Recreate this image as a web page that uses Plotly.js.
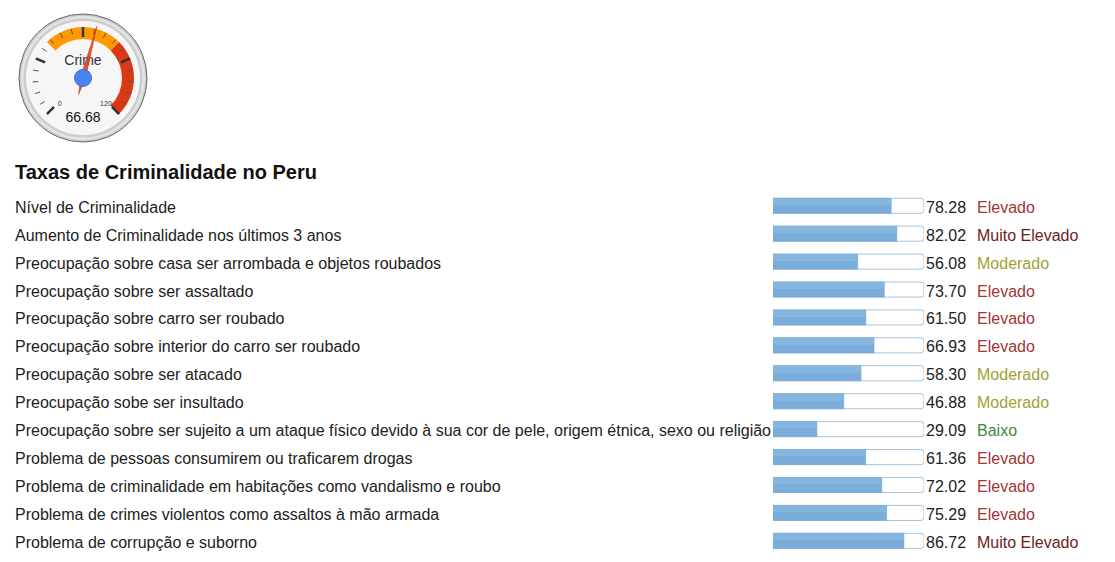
<!DOCTYPE html>
<html>
<head>
<meta charset="utf-8">
<script src="https://cdn.plot.ly/plotly-3.0.1.min.js"></script>
<style>
  body { margin: 0; background: #fff; }
  #myDiv { width: 1115px; height: 562px; }
</style>
</head>
<body>
<div id="myDiv"></div>
<script>
// gauge data
const gaugeLabel = 'Crime';
const gaugeValue = 66.68;
const gaugeMin = 0;
const gaugeMax = 120;
const bandFrom = [40, 80];
const bandTo = [80, 120];
const bandColors = ['#ff9900', '#dc3912'];
const majorTicks = [0, 30, 60, 90, 120];
const minorTicks = [6, 12, 18, 24, 36, 42, 48, 54, 66, 72, 78, 84, 96, 102, 108, 114];

// bar list data
const chartTitle = 'Taxas de Criminalidade no Peru';
const categories = [
  'Nível de Criminalidade',
  'Aumento de Criminalidade nos últimos 3 anos',
  'Preocupação sobre casa ser arrombada e objetos roubados',
  'Preocupação sobre ser assaltado',
  'Preocupação sobre carro ser roubado',
  'Preocupação sobre interior do carro ser roubado',
  'Preocupação sobre ser atacado',
  'Preocupação sobe ser insultado',
  'Preocupação sobre ser sujeito a um ataque físico devido à sua cor de pele, origem étnica, sexo ou religião',
  'Problema de pessoas consumirem ou traficarem drogas',
  'Problema de criminalidade em habitações como vandalismo e roubo',
  'Problema de crimes violentos como assaltos à mão armada',
  'Problema de corrupção e suborno'
];
const values = [78.28, 82.02, 56.08, 73.70, 61.50, 66.93, 58.30, 46.88, 29.09, 61.36, 72.02, 75.29, 86.72];
const levels = ['Elevado', 'Muito Elevado', 'Moderado', 'Elevado', 'Elevado', 'Elevado', 'Moderado',
  'Moderado', 'Baixo', 'Elevado', 'Elevado', 'Elevado', 'Muito Elevado'];
const scaleMax = 100;

const levelColors = {
  'Baixo': '#3d8a3d',
  'Moderado': '#a2a232',
  'Elevado': '#a53434',
  'Muito Elevado': '#6d1c1c'
};

const font = 'Liberation Sans, Arial, sans-serif';
const W = 1115, H = 562;

// value -> angle (0 at top, clockwise), gauge spans 270 degrees
function ang(v) {
  return -135 + (v - gaugeMin) * 270 / (gaugeMax - gaugeMin);
}

let traces = [];

// bezel and face
traces.push({
  type: 'barpolar', subplot: 'polar', r: [8], base: [56], theta: [0], width: [360],
  marker: {color: '#cdcdcd', line: {width: 0}}, hoverinfo: 'skip'
});
traces.push({
  type: 'barpolar', subplot: 'polar', r: [2.5], base: [59.5], theta: [0], width: [360],
  marker: {color: '#e4e4e4', line: {width: 0}}, hoverinfo: 'skip'
});
traces.push({
  type: 'barpolar', subplot: 'polar', r: [57], base: [0], theta: [0], width: [360],
  marker: {color: '#f6f6f6', line: {width: 0}}, hoverinfo: 'skip'
});

// coloured bands
traces.push({
  type: 'barpolar', subplot: 'polar',
  r: bandFrom.map(() => 12),
  base: bandFrom.map(() => 39),
  theta: bandFrom.map((f, i) => ang((f + bandTo[i]) / 2)),
  width: bandFrom.map((f, i) => (bandTo[i] - f) * 270 / (gaugeMax - gaugeMin)),
  marker: {color: bandColors, line: {width: 0}}, hoverinfo: 'skip'
});

// ticks
function tickLines(list, r0, r1) {
  let r = [], t = [];
  list.forEach(v => {
    r.push(r0, r1, null);
    t.push(ang(v), ang(v), null);
  });
  return {r: r, theta: t};
}
let minorT = tickLines(minorTicks, 45, 50.5);
traces.push({
  type: 'scatterpolar', subplot: 'polar', mode: 'lines',
  r: minorT.r, theta: minorT.theta,
  line: {color: '#555', width: 1}, hoverinfo: 'skip'
});
let majorT = tickLines(majorTicks, 41, 51);
traces.push({
  type: 'scatterpolar', subplot: 'polar', mode: 'lines',
  r: majorT.r, theta: majorT.theta,
  line: {color: '#333', width: 2.5}, hoverinfo: 'skip'
});

// texts
traces.push({
  type: 'scatterpolar', subplot: 'polar', mode: 'text',
  r: [16.5, 40], theta: [0, 180],
  text: [gaugeLabel, gaugeValue.toFixed(2)],
  textfont: {family: font, size: [14, 14], color: ['#333', '#111']},
  hoverinfo: 'skip'
});
traces.push({
  type: 'scatterpolar', subplot: 'polar', mode: 'text',
  r: [35, 35], theta: [ang(gaugeMin) - 3, ang(gaugeMax) + 4],
  text: [String(gaugeMin), String(gaugeMax)],
  textfont: {family: font, size: 7, color: '#333'},
  hoverinfo: 'skip'
});

// needle
const a = ang(gaugeValue);
traces.push({
  type: 'scatterpolar', subplot: 'polar', mode: 'lines', fill: 'toself',
  r: [54, 2.6, 17, 2.6, 54],
  theta: [a, a + 90, a + 180, a - 90, a],
  fillcolor: 'rgba(220,57,18,0.85)',
  line: {color: 'rgba(198,51,16,0.9)', width: 0.5}, hoverinfo: 'skip'
});
traces.push({
  type: 'scatterpolar', subplot: 'polar', mode: 'markers',
  r: [0], theta: [0],
  marker: {size: 17, color: '#4684ee', line: {color: '#3a70d4', width: 1}},
  hoverinfo: 'skip'
});

// bar list
const idx = categories.map((c, i) => i);
traces.push({
  type: 'bar', orientation: 'h', xaxis: 'x', yaxis: 'y',
  x: categories.map(() => scaleMax), y: idx, width: 0.54,
  marker: {color: '#ffffff', line: {color: '#a9c3da', width: 1}, cornerradius: 3},
  hoverinfo: 'skip'
});
traces.push({
  type: 'bar', orientation: 'h', xaxis: 'x', yaxis: 'y',
  x: values, y: idx, width: 0.54,
  marker: {color: '#79acd9', line: {color: '#6fa4d2', width: 0.5}},
  hoverinfo: 'skip'
});
// lighter upper part of each filled bar
traces.push({
  type: 'bar', orientation: 'h', xaxis: 'x', yaxis: 'y',
  x: values, y: idx, width: 0.24, offset: -0.26,
  marker: {color: '#84b6e0', line: {width: 0}},
  hoverinfo: 'skip'
});

let annotations = [];
categories.forEach((c, i) => {
  annotations.push({
    xref: 'paper', yref: 'y', x: 13 / W, y: i, xanchor: 'left', yanchor: 'middle', yshift: -1.5,
    text: c, showarrow: false, font: {family: font, size: 16, color: '#222'}
  });
  annotations.push({
    xref: 'x', yref: 'y', x: scaleMax, y: i, xanchor: 'left', yanchor: 'middle', xshift: 0, yshift: -1.5,
    text: values[i].toFixed(2), showarrow: false, font: {family: font, size: 16, color: '#222'}
  });
  annotations.push({
    xref: 'paper', yref: 'y', x: 975 / W, y: i, xanchor: 'left', yanchor: 'middle', yshift: -1.5,
    text: levels[i], showarrow: false, font: {family: font, size: 16, color: levelColors[levels[i]]}
  });
});

const layout = {
  width: W,
  height: H,
  margin: {l: 0, r: 0, t: 0, b: 0},
  paper_bgcolor: '#ffffff',
  plot_bgcolor: 'rgba(0,0,0,0)',
  showlegend: false,
  barmode: 'overlay',
  title: {
    text: '<b>' + chartTitle + '</b>',
    x: 15 / W, xanchor: 'left', y: (H - 172) / H, yanchor: 'middle',
    font: {family: font, size: 20, color: '#111'}
  },
  polar: {
    domain: {x: [19 / W, 147 / W], y: [(H - 142) / H, (H - 14) / H]},
    bgcolor: 'rgba(0,0,0,0)',
    radialaxis: {range: [0, 64], visible: false, showgrid: false},
    angularaxis: {
      rotation: 90, direction: 'clockwise', showgrid: false, showticklabels: false,
      ticks: '', showline: true, linecolor: '#666', linewidth: 1
    }
  },
  xaxis: {
    domain: [773 / W, 924 / W], range: [0, scaleMax], visible: false, fixedrange: true
  },
  yaxis: {
    domain: [(H - 554.8) / H, (H - 191.8) / H], range: [categories.length - 0.5, -0.5],
    visible: false, fixedrange: true
  },
  annotations: annotations
};

Plotly.newPlot('myDiv', traces, layout, {staticPlot: true, displayModeBar: false});
</script>
</body>
</html>
